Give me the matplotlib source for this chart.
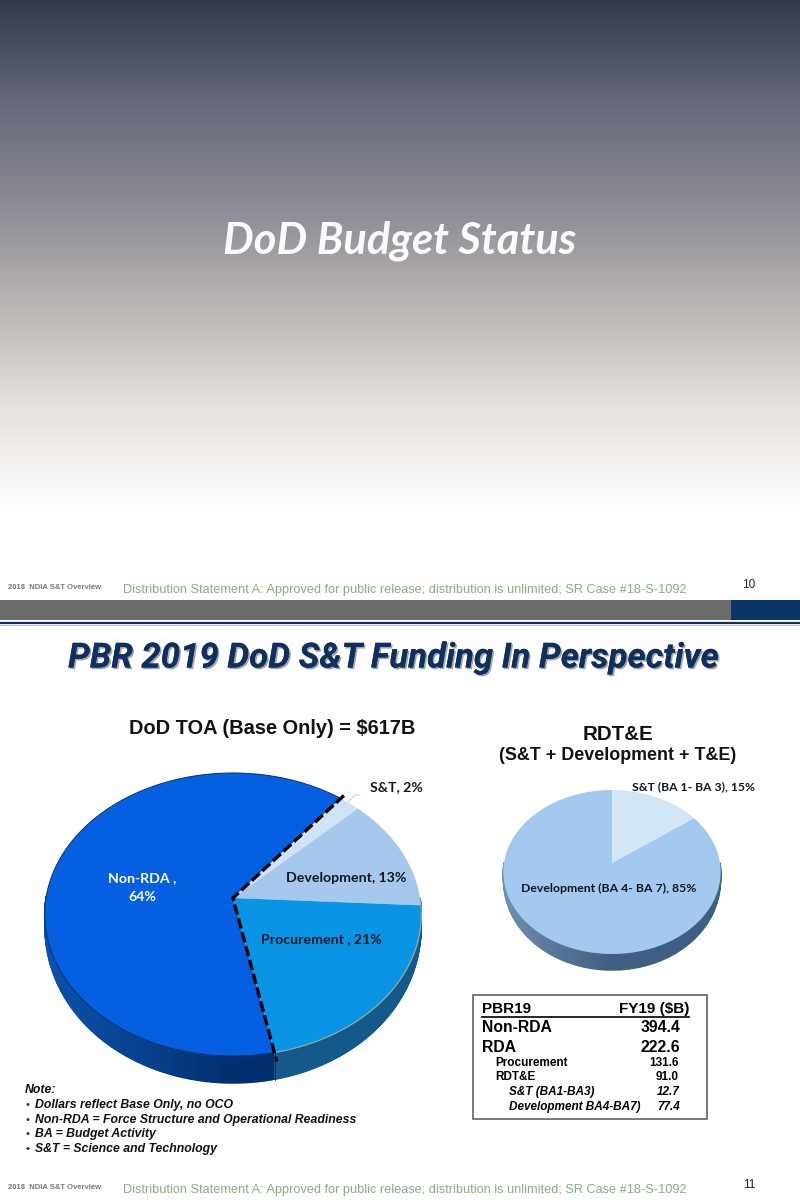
import numpy as np
import matplotlib
matplotlib.use("Agg")
import matplotlib.pyplot as plt
import matplotlib.patheffects as pe
from matplotlib.colors import LinearSegmentedColormap, to_rgb

# left pie
toa_labels = ["Non-RDA", "S&T", "Development", "Procurement"]
toa_pct = [64, 2, 13, 21]
toa_colors = ["#0460e0", "#cfe3f3", "#a6c8ec", "#0a94e6"]
toa_wall = [("#0a52ad", "#02306e"), ("#7f9ab5", "#7f9ab5"), ("#5f7f9f", "#5f7f9f"), ("#1a4f78", "#14598c")]

# right pie
rdte_labels = ["S&T (BA 1- BA 3)", "Development (BA 4- BA 7)"]
rdte_pct = [15, 85]
rdte_colors = ["#d3e6f5", "#a3c9ee"]

# table
table_head = ["PBR19", "FY19 ($B)"]
table_rows = ["Non-RDA", "RDA", "Procurement", "RDT&E", "S&T (BA1-BA3)", "Development BA4-BA7)"]
table_vals = ["394.4", "222.6", "131.6", "91.0", "12.7", "77.4"]

notes = ["Dollars reflect Base Only, no OCO",
         "Non-RDA = Force Structure and Operational Readiness",
         "BA = Budget Activity",
         "S&T = Science and Technology"]
footer = "Distribution Statement A: Approved for public release; distribution is unlimited; SR Case #18-S-1092"

ARIAL = "Liberation Sans"
LABEL = "Lato"


def project(ang, cx, cy, R, k, p):
    # clockwise angle from top of the disc, with a bit of perspective
    u, v = np.sin(ang), np.cos(ang)
    d = 1 + p * v
    return cx + R * u / d, cy - k * v / d


def draw_pie(ax, pct, colors, start, cx, cy, R, k, p, depth, walls=None):
    a = np.deg2rad(start)
    spans = []
    for v in pct:
        spans.append((a, a + np.deg2rad(v * 3.6)))
        a = spans[-1][1]
    for (a0, a1), wall in zip(spans, walls):
        t = np.linspace(a0, a1, 240)
        x, y = project(t, cx, cy, R, k, p)
        # wall gets thin towards the sides of the disc
        h = depth * np.sqrt(np.clip(-np.cos(t), 0, 1))
        for i in range(len(t) - 1):
            if h[i] <= 0 and h[i + 1] <= 0:
                continue
            f = (x[i] - cx + R) / (2 * R)
            c0, c1 = np.array(to_rgb(wall[0])), np.array(to_rgb(wall[1]))
            col = c0 + (c1 - c0) * min(f * 2, 1)
            ax.fill([x[i], x[i + 1], x[i + 1], x[i]],
                    [y[i], y[i + 1], y[i + 1] + h[i + 1], y[i] + h[i]],
                    fc=col, ec=col, lw=1.0, zorder=2)
    for (a0, a1), col in zip(spans, colors):
        t = np.linspace(a0, a1, 200)
        x, y = project(t, cx, cy, R, k, p)
        ax.fill(np.r_[cx, x], np.r_[cy, y], color=col, lw=0, zorder=3)
    return spans


fig = plt.figure(figsize=(8, 12), dpi=100)
ax = fig.add_axes([0, 0, 1, 1])
ax.set_xlim(0, 800)
ax.set_ylim(1200, 0)
ax.axis("off")

# top slide background
grad = LinearSegmentedColormap.from_list("g", [(0, "#323949"), (0.2, "#666a78"), (0.42, "#918f98"),
                                                (0.62, "#c0bbb9"), (0.8, "#e9e4e1"), (1, "#ffffff")])
ax.imshow(np.linspace(0, 1, 256)[:, None], extent=[0, 800, 515, 0], cmap=grad, aspect="auto", zorder=0)
ax.set_xlim(0, 800)
ax.set_ylim(1200, 0)
ax.text(400, 241, "DoD Budget Status", color="#fbfbfb", fontsize=31.2, family="Lato", weight="bold",
        style="italic", ha="center", va="center", zorder=5)

# band between the slides
ax.fill_between([0, 731], 600, 620, color="#6c6b6b", lw=0, zorder=1)
ax.fill_between([731, 800], 600, 620, color="#0b3468", lw=0, zorder=1)
ax.plot([0, 800], [622.5, 622.5], color="#0b2f5e", lw=1.6, zorder=1)
ax.plot([0, 800], [625, 625], color="#9aa4b2", lw=0.5, zorder=1)

for yf, yn, yl, num in [(590, 585, 587.5, "10"), (1190, 1185, 1187.5, "11")]:
    ax.text(8, yl, "2018  NDIA S&T Overview", fontsize=5.5, family=ARIAL, weight="bold", color="#777777", va="center")
    ax.text(123, yf, footer, fontsize=9.17, family=ARIAL, color="#86b07c", va="center")
    ax.text(749, yn, num, fontsize=8.5, family=ARIAL, color="#222222", va="center", ha="center")

ax.text(394, 658, "PBR 2019 DoD S&T Funding In Perspective", color="#0f2f5f", fontsize=25, family="Roboto",
        weight="bold", style="italic", ha="center", va="center", zorder=5,
        path_effects=[pe.withSimplePatchShadow(offset=(1.2, -1.2), shadow_rgbFace="#8a8f99", alpha=0.8), pe.Normal()])

ax.text(272, 729, "DoD TOA (Base Only) = $617B", fontsize=14.4, family=ARIAL, weight="bold", color="#111111",
        ha="center", va="center")
ax.text(618, 735, "RDT&E", fontsize=14.8, family=ARIAL, weight="bold", color="#111111", ha="center", va="center")
ax.text(618, 756, "(S&T + Development + T&E)", fontsize=12.9, family=ARIAL, weight="bold", color="#111111",
        ha="center", va="center")

# left pie
cx, cy, R, k, p = 233, 898, 187, 139.6, 0.1166
spans = draw_pie(ax, toa_pct, toa_colors, 39 - 64 * 3.6, cx, cy, R, k, p, 27, toa_wall)
t = np.linspace(spans[0][0], spans[0][1], 200)
x, y = project(t, cx, cy, R, k, p)
ax.plot(x, y, color="#06306e", lw=0.7, zorder=4)
t = np.linspace(spans[3][0], spans[3][1], 200)
x, y = project(t, cx, cy, R, k, p)
ax.plot(x, y, color="#a8b28c", lw=0.8, zorder=4)
xbot, ybot = project(spans[0][0], cx, cy, R, k, p)
xtop, ytop = project(spans[0][1], cx, cy, R, k, p)
ax.plot([xbot, xbot], [ybot, ybot + 27], color="#0a2a50", lw=0.6, zorder=4)
# dashed outline of the RDA slices
ax.plot([xtop + 3, cx, xbot + 2], [ytop - 3, cy, ybot + 9], color="black", lw=2.4, ls=(0, (3.2, 1.1)), zorder=6)
ax.plot([348, 355, 360], [802, 795, 795], color="#cccccc", lw=0.7, zorder=2)

ax.text(142, 878, "Non-RDA ,", color="white", fontsize=10.2, family=LABEL, weight="bold", ha="center", va="center", zorder=7)
ax.text(142, 897, "64%", color="white", fontsize=10.2, family=LABEL, weight="bold", ha="center", va="center", zorder=7)
ax.text(346, 878, "Development, 13%", color="#101820", fontsize=10.2, family=LABEL, weight="bold", ha="center", va="center", zorder=7)
ax.text(321, 939, "Procurement , 21%", color="#101820", fontsize=10.2, family=LABEL, weight="bold", ha="center", va="center", zorder=7)
ax.text(396, 787, "S&T, 2%", color="#101820", fontsize=10.2, family=LABEL, weight="bold", ha="center", va="center", zorder=7)

# right pie
draw_pie(ax, rdte_pct, rdte_colors, 0, 612, 863, 108, 81, 0.11, 16, [("#8ea6bf", "#8ea6bf"), ("#6f8dac", "#3f5f82")])
ax.text(693, 787, "S&T (BA 1- BA 3), 15%", color="#101820", fontsize=8.7, family=LABEL, weight="bold", ha="center", va="center", zorder=7)
ax.text(609, 888, "Development (BA 4- BA 7), 85%", color="#101820", fontsize=8.8, family=LABEL, weight="bold", ha="center", va="center", zorder=7)

# table box
ax.fill([473, 707, 707, 473, 473], [995, 995, 1119, 1119, 995], fc="white", ec="#555555", lw=1.1, zorder=3)
ax.text(482, 1009, table_head[0], fontsize=11, family=ARIAL, weight="bold", va="center", zorder=5)
ax.text(689, 1009, table_head[1], fontsize=11, family=ARIAL, weight="bold", va="center", ha="right", zorder=5)
ax.plot([482, 689], [1017, 1017], color="black", lw=1.2, zorder=5)
row_y = [1028, 1047, 1063, 1077, 1092, 1107]
row_x = [482, 482, 495, 495, 509, 509]
row_fs = [11.3, 11.3, 8.5, 8.5, 8.5, 8.5]
row_rx = [680, 680, 679, 679, 680, 680]
for i in range(len(table_rows)):
    st = "italic" if i > 3 else "normal"
    ax.text(row_x[i], row_y[i], table_rows[i], fontsize=row_fs[i], family=ARIAL, weight="bold", style=st, va="center", zorder=5)
    ax.text(row_rx[i], row_y[i], table_vals[i], fontsize=row_fs[i], family=ARIAL, weight="bold", style=st, va="center", ha="right", zorder=5)

# notes
ax.text(25, 1090, "Note:", fontsize=8.8, family=ARIAL, weight="bold", style="italic", color="#111111", va="center")
for i, n in enumerate(notes):
    y = 1105 + i * 14.6
    ax.text(25, y, "•", fontsize=8, family=ARIAL, color="#333333", va="center")
    ax.text(35, y, n, fontsize=8.8, family=ARIAL, weight="bold", style="italic", color="#111111", va="center")

fig.savefig("out.png", dpi=100)
